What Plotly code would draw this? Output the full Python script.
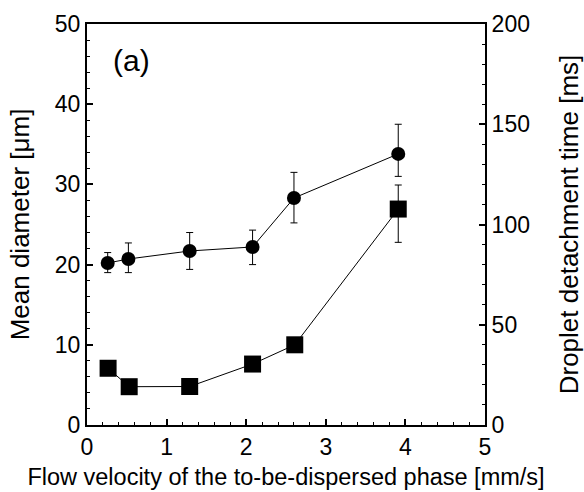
import plotly.graph_objects as go

velocity_circle = [0.26, 0.52, 1.29, 2.08, 2.60, 3.91]
mean_diameter = [20.2, 20.7, 21.7, 22.2, 28.3, 33.8]
diam_err_plus = [1.3, 2.0, 2.3, 2.1, 3.2, 3.7]
diam_err_minus = [1.2, 1.7, 2.3, 2.2, 3.1, 2.8]

velocity_square = [0.265, 0.53, 1.29, 2.08, 2.61, 3.91]
detach_time = [28.3, 19.1, 19.2, 30.4, 40.0, 107.7]
time_err_plus = [0, 0, 0, 0, 0, 12.0]
time_err_minus = [0, 0, 0, 0, 0, 16.6]

FONT = "Liberation Sans, Arial, sans-serif"

fig = go.Figure()
fig.add_trace(go.Scatter(
    x=velocity_circle, y=mean_diameter, mode="lines+markers",
    line=dict(color="black", width=1),
    marker=dict(symbol="circle", size=14, color="black"),
    error_y=dict(type="data", symmetric=False, array=diam_err_plus,
                 arrayminus=diam_err_minus, color="black", thickness=1, width=3.5),
    yaxis="y", showlegend=False))
fig.add_trace(go.Scatter(
    x=velocity_square, y=detach_time, mode="lines+markers",
    line=dict(color="black", width=1),
    marker=dict(symbol="square", size=17, color="black"),
    error_y=dict(type="data", symmetric=False, array=time_err_plus,
                 arrayminus=time_err_minus, color="black", thickness=1, width=3.5),
    yaxis="y2", showlegend=False))

fig.add_annotation(text="(a)", x=0.56, y=45.5, xref="x", yref="y",
                   showarrow=False, font=dict(family=FONT, size=30, color="black"))

fig.update_layout(
    width=584, height=492,
    margin=dict(l=87, r=99, t=24, b=67, autoexpand=False),
    paper_bgcolor="white", plot_bgcolor="white",
    font=dict(family=FONT, color="black"),
    xaxis=dict(range=[0, 5], dtick=1, tick0=0, showgrid=False, zeroline=False,
               automargin=False,
               showline=True, linecolor="black", linewidth=2, mirror=True,
               ticks="inside", ticklen=6, tickwidth=1.5, tickcolor="black",
               minor=dict(dtick=0.2, ticks="inside", ticklen=3, tickcolor="black", tickwidth=1),
               tickfont=dict(size=23),
               title=dict(text="Flow velocity of the to-be-dispersed phase [mm/s]",
                          font=dict(size=23.5), standoff=10)),
    yaxis=dict(range=[0, 50], dtick=10, tick0=0, showgrid=False, zeroline=False,
               automargin=False,
               showline=True, linecolor="black", linewidth=2,
               ticks="inside", ticklen=6, tickwidth=1.5, tickcolor="black",
               minor=dict(dtick=2, ticks="inside", ticklen=3, tickcolor="black", tickwidth=1),
               tickfont=dict(size=23),
               title=dict(text="Mean diameter [\u03bcm]", font=dict(size=26), standoff=18)),
    yaxis2=dict(range=[0, 200], dtick=50, tick0=0, overlaying="y", side="right",
                automargin=False,
                showgrid=False, zeroline=False,
                showline=True, linecolor="black", linewidth=2,
                ticks="inside", ticklen=6, tickwidth=1.5, tickcolor="black",
                minor=dict(dtick=10, ticks="inside", ticklen=3, tickcolor="black", tickwidth=1),
                tickfont=dict(size=23),
                title=dict(text="Droplet detachment time [ms]", font=dict(size=26), standoff=32)),
)

fig.write_html("out.html")
